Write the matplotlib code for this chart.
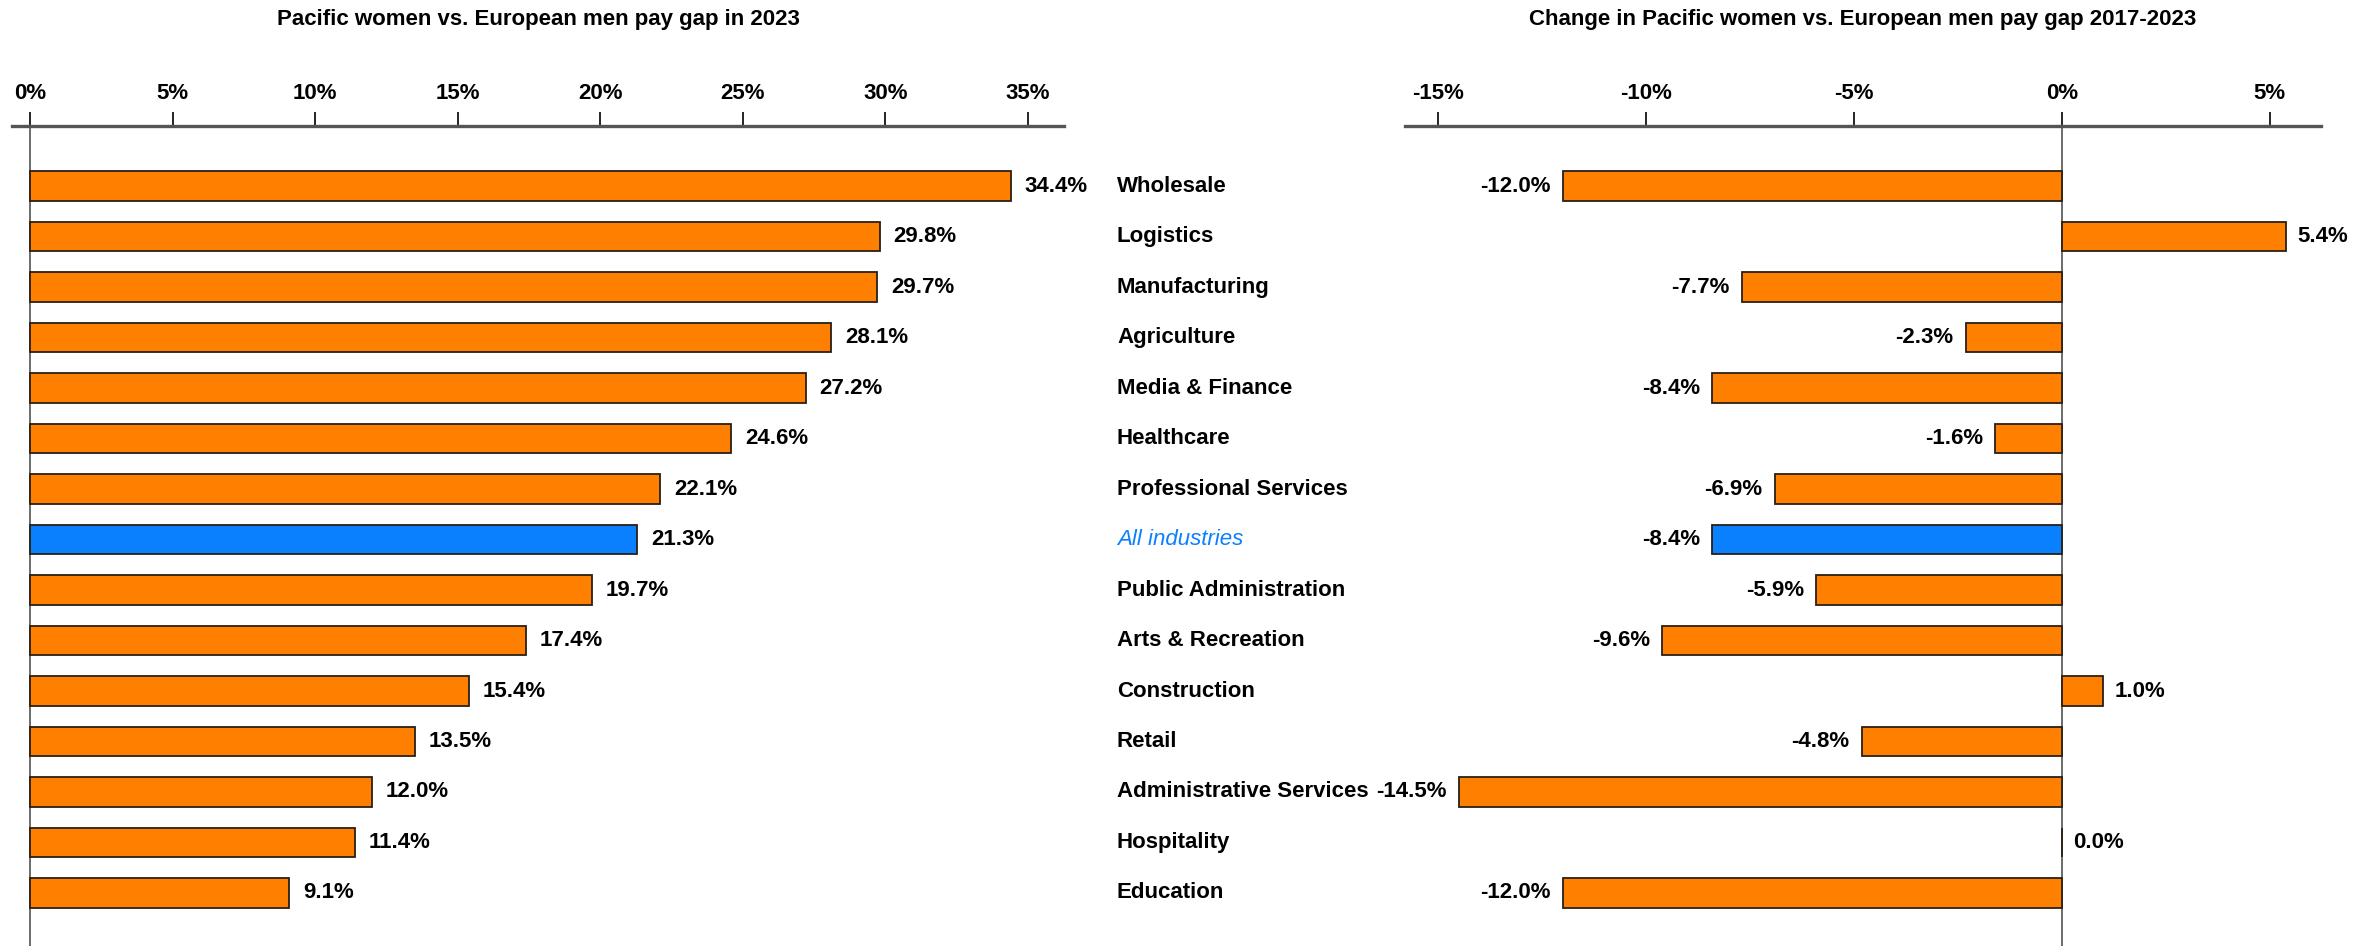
import matplotlib
matplotlib.use("Agg")
import matplotlib.pyplot as plt
import matplotlib.transforms as mtransforms
from matplotlib.ticker import FuncFormatter

plt.rcParams["font.family"] = ["Liberation Sans", "DejaVu Sans"]

# Datos
industries = [
    "Wholesale", "Logistics", "Manufacturing", "Agriculture", "Media & Finance",
    "Healthcare", "Professional Services", "All industries", "Public Administration",
    "Arts & Recreation", "Construction", "Retail", "Administrative Services",
    "Hospitality", "Education",
]
gap_2023 = [34.4, 29.8, 29.7, 28.1, 27.2, 24.6, 22.1, 21.3, 19.7, 17.4, 15.4, 13.5, 12.0, 11.4, 9.1]
change_2017_2023 = [-12.0, 5.4, -7.7, -2.3, -8.4, -1.6, -6.9, -8.4, -5.9, -9.6, 1.0, -4.8, -14.5, 0.0, -12.0]
highlight = "All industries"

ORANGE = "#FF8000"
BLUE = "#0A80FF"
EDGE = "#2a1f14"
FS = 16

W, H = 2374, 946
fig = plt.figure(figsize=(W / 100, H / 100), dpi=100)

top = 1 - 126 / H
ax1 = fig.add_axes([12 / W, 0, 1052 / W, top])
ax2 = fig.add_axes([1405 / W, 0, 916 / W, top])

ypos = list(range(len(industries)))
colors = [BLUE if c == highlight else ORANGE for c in industries]


def style_axis(ax, xlim, ticks):
    ax.set_xlim(*xlim)
    ax.set_ylim(15.05, -1.19)
    for s in ["left", "right", "bottom"]:
        ax.spines[s].set_visible(False)
    ax.spines["top"].set_linewidth(2.4)
    ax.spines["top"].set_color("#555555")
    ax.xaxis.tick_top()
    ax.set_xticks(ticks)
    ax.xaxis.set_major_formatter(FuncFormatter(lambda v, p: f"{v:.0f}%"))
    ax.tick_params(axis="x", direction="out", length=10, width=1.2, pad=6,
                   labelsize=FS, colors="black")
    for lbl in ax.get_xticklabels():
        lbl.set_fontweight("bold")
    ax.set_yticks([])
    ax.axvline(0, color="#444444", lw=1.1, zorder=1)


# Gráfico izquierdo
ax1.barh(ypos, gap_2023, height=0.58, color=colors, edgecolor=EDGE, linewidth=1.3, zorder=2)
style_axis(ax1, (-0.63, 36.26), [0, 5, 10, 15, 20, 25, 30, 35])
for y, v in zip(ypos, gap_2023):
    ax1.annotate(f"{v:.1f}%", (v, y), xytext=(10, 0), textcoords="offset points",
                 ha="left", va="center", fontsize=FS, fontweight="bold")

# Gráfico derecho
ax2.barh(ypos, change_2017_2023, height=0.58, color=colors, edgecolor=EDGE, linewidth=1.3, zorder=2)
style_axis(ax2, (-15.79, 6.23), [-15, -10, -5, 0, 5])
for y, v in zip(ypos, change_2017_2023):
    if v >= 0:
        ax2.annotate(f"{v:.1f}%", (v, y), xytext=(8, 0), textcoords="offset points",
                     ha="left", va="center", fontsize=FS, fontweight="bold")
    else:
        ax2.annotate(f"{v:.1f}%", (v, y), xytext=(-9, 0), textcoords="offset points",
                     ha="right", va="center", fontsize=FS, fontweight="bold")

# Etiquetas de categorías en el centro
trans = mtransforms.blended_transform_factory(fig.transFigure, ax2.transData)
for y, name in zip(ypos, industries):
    if name == highlight:
        fig.text(1117 / W, y, name, transform=trans, ha="left", va="center",
                 fontsize=FS, style="italic", color=BLUE)
    else:
        fig.text(1117 / W, y, name, transform=trans, ha="left", va="center",
                 fontsize=FS, fontweight="bold")

# Títulos
fig.text((12 + 1064) / 2 / W, 1 - 19 / H, "Pacific women vs. European men pay gap in 2023",
         ha="center", va="center", fontsize=FS, fontweight="bold")
fig.text((1405 + 2321) / 2 / W, 1 - 19 / H, "Change in Pacific women vs. European men pay gap 2017-2023",
         ha="center", va="center", fontsize=FS, fontweight="bold")

fig.savefig("out.png", dpi=100)
